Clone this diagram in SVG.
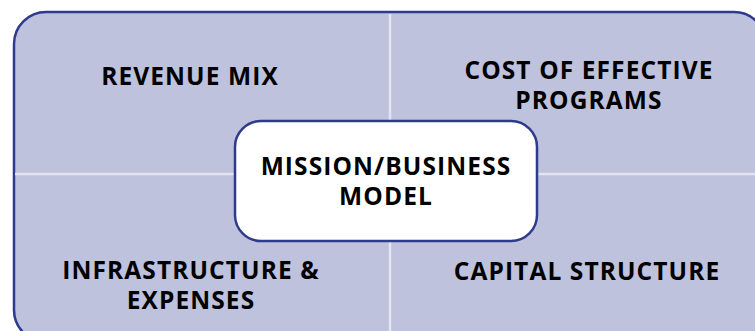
<svg xmlns="http://www.w3.org/2000/svg" width="755" height="331" viewBox="0 0 755 331">
<style>
.lbl{font-family:"Open Sans","DejaVu Sans",sans-serif;font-weight:bold;font-size:24.5px;letter-spacing:1.1px;fill:#000;text-anchor:middle}
.div{stroke:#e2e4f0;stroke-width:2.5;fill:none}
</style>
<rect width="755" height="331" fill="#ffffff"/>
<g id="frame">
<rect x="14" y="12" width="752" height="330" rx="32" ry="32" fill="#bec2dc" stroke="#2e3a8c" stroke-width="2.5"/>
</g>
<g id="connectors">
<line class="div" x1="390" y1="14" x2="390" y2="331"/>
<line class="div" x1="15" y1="174" x2="755" y2="174"/>
</g>
<g id="revenue-mix"><text class="lbl" x="190" y="85">REVENUE MIX</text></g>
<g id="cost-programs"><text class="lbl" x="589" y="79">COST OF EFFECTIVE</text><text class="lbl" x="589" y="109">PROGRAMS</text></g>
<g id="infrastructure"><text class="lbl" x="191" y="279">INFRASTRUCTURE &amp;</text><text class="lbl" x="191" y="309">EXPENSES</text></g>
<g id="capital-structure"><text class="lbl" x="587" y="280">CAPITAL STRUCTURE</text></g>
<g id="mission">
<rect x="235" y="121" width="302" height="120" rx="26" ry="26" fill="#ffffff" stroke="#2e3a8c" stroke-width="2.5"/>
<text class="lbl" x="386" y="175">MISSION/BUSINESS</text><text class="lbl" x="386" y="205">MODEL</text>
</g>
</svg>
